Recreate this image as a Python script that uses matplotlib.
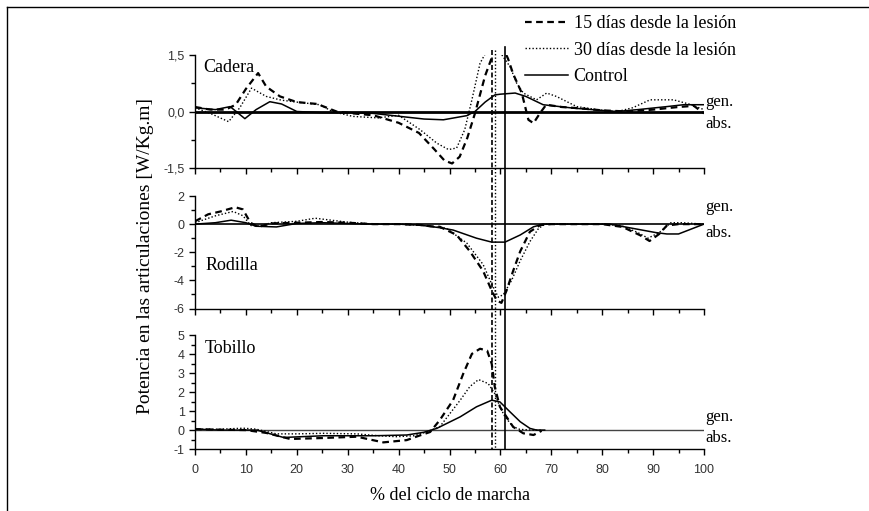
import matplotlib
matplotlib.use('Agg')
import matplotlib.pyplot as plt
from matplotlib.ticker import MultipleLocator, FixedLocator, FuncFormatter, NullFormatter
from matplotlib.lines import Line2D
import matplotlib.transforms as mtransforms

plt.rcParams['axes.unicode_minus'] = False
SERIF = ['Liberation Serif', 'DejaVu Serif']
SANS = ['Liberation Sans', 'DejaVu Sans']

# ---------------- data ----------------
legend_labels = ['15 días desde la lesión', '30 días desde la lesión', 'Control']
panel_names = ['Cadera', 'Rodilla', 'Tobillo']

# Cadera (hip)
hip15_x = [0, 3, 6, 8, 10, 12.4, 14, 16.7, 20, 24, 27.8, 31, 35, 40, 44, 47, 49, 50.5, 52, 53.5,
           55, 57, 58.5, 59.6, 60.5, 61.5, 62.5, 64.2, 65.5, 66.5, 67.8, 69, 72, 76, 80, 85, 90, 95, 98, 100]
hip15_y = [0.12, 0.05, 0.05, 0.18, 0.6, 1.02, 0.66, 0.40, 0.25, 0.2, 0.0, -0.05, -0.1, -0.3, -0.57, -1.0,
           -1.3, -1.38, -1.2, -0.7, -0.05, 0.95, 1.5, 1.72, 1.7, 1.4, 1.0, 0.49, -0.22, -0.31, -0.04, 0.18,
           0.12, 0.08, 0.03, 0.0, 0.05, 0.12, 0.15, -0.05]
hip30_x = [0, 3, 6.6, 8.8, 11.1, 14, 17, 20, 24.5, 27, 31, 36, 40, 44.2, 47.5, 49.8, 51.4, 53, 54.4, 56,
           57.6, 58.9, 60.3, 61.9, 63.2, 64.5, 67.1, 69.1, 71, 75, 80, 83, 86, 89.4, 94, 97, 100]
hip30_y = [0.1, -0.05, -0.27, 0.1, 0.62, 0.4, 0.3, 0.25, 0.18, 0.0, -0.13, -0.17, -0.1, -0.48, -0.84,
           -1.01, -0.97, -0.48, 0.31, 1.28, 1.68, 1.68, 1.5, 1.19, 0.75, 0.49, 0.31, 0.49, 0.4, 0.13, 0.03,
           0.0, 0.1, 0.31, 0.31, 0.2, 0.05]
hipC_x = [0, 4, 6.9, 9.8, 12, 14.7, 17, 20, 25, 30, 35, 40.3, 45, 48.8, 53.4, 55, 57, 58.9, 60, 62.9,
          65, 68.4, 74.3, 78, 82.8, 87, 92.7, 96, 100]
hipC_y = [0.1, 0.05, 0.13, -0.19, 0.05, 0.26, 0.2, 0.0, -0.03, -0.03, -0.05, -0.13, -0.2, -0.22, -0.11,
          0.0, 0.25, 0.44, 0.46, 0.49, 0.4, 0.18, 0.09, 0.05, 0.0, 0.05, 0.13, 0.18, 0.18]

# Rodilla (knee)
knee15_x = [0, 2.6, 5, 7.9, 9.4, 10.9, 12.4, 15, 20, 25, 30, 35, 40, 44, 46.2, 48.1, 51.4, 54, 56.6, 58.3,
            59.3, 60.2, 61.2, 62.5, 63.9, 65.8, 67.8, 70, 75, 80, 84, 87.5, 89.3, 91.2, 92.7, 95, 100]
knee15_y = [0.2, 0.7, 0.9, 1.2, 1.05, 0.1, -0.2, 0.05, 0.1, 0.15, 0.1, 0.0, 0.0, -0.05, -0.15, -0.19,
            -0.77, -1.93, -3.33, -4.73, -5.43, -5.6, -4.73, -3.33, -1.93, -0.54, -0.07, 0.0, 0.0, 0.0,
            -0.2, -0.8, -1.2, -0.7, -0.1, 0.0, 0.0]
knee30_x = [0, 4.1, 7.5, 9.4, 11, 13, 15, 20, 23.6, 29.7, 35, 40, 45, 49.4, 53.4, 56.6, 58.3, 59.6, 60.6,
            62.2, 63.9, 65.8, 67.5, 68.8, 75, 80, 83.7, 87, 89, 91.2, 93.5, 95.7, 100]
knee30_y = [0.1, 0.6, 0.9, 0.6, -0.1, -0.1, 0.1, 0.2, 0.42, 0.15, 0.0, 0.0, -0.1, -0.3, -1.35, -2.87,
            -4.27, -5.2, -5.0, -4.0, -2.6, -1.24, -0.3, 0.0, 0.0, 0.0, -0.1, -0.6, -1.0, -0.6, 0.1, 0.1, 0.0]
kneeC_x = [0, 4, 7.1, 10, 12, 16, 20, 25, 30, 35, 40, 44.2, 48, 50.7, 55.3, 58.3, 60.9, 63.9, 66.5, 68.4,
           75, 81.5, 86, 90.5, 92.7, 95, 100]
kneeC_y = [0.0, 0.1, 0.28, 0.1, -0.15, -0.2, 0.05, 0.1, 0.05, 0.0, 0.0, -0.07, -0.25, -0.42, -1.0, -1.28,
           -1.28, -0.77, -0.19, 0.0, 0.0, 0.0, -0.3, -0.6, -0.7, -0.7, 0.0]

# Tobillo (ankle)
ank15_x = [0, 5, 10, 14, 18.7, 25, 31.8, 37, 41.6, 44, 46.2, 48.1, 50.7, 52.7, 54.4, 56, 57.4, 58.3, 58.9,
           59.9, 61.2, 62.5, 64.5, 66.5, 68.1]
ank15_y = [0.05, 0.02, 0.0, -0.15, -0.47, -0.42, -0.35, -0.65, -0.53, -0.3, -0.1, 0.53, 1.58, 2.98, 4.03,
           4.3, 4.2, 3.5, 2.28, 1.23, 0.7, 0.17, -0.17, -0.26, -0.04]
ank30_x = [0, 5, 9.5, 12, 16, 20, 25.2, 31.8, 36, 39.6, 43, 45.5, 48.1, 50.1, 52.1, 54, 55.7, 57.6, 58.9,
           59.9, 60.9, 62.5, 63.8, 66, 68]
ank30_y = [0.05, 0.05, 0.1, 0.05, -0.2, -0.2, -0.17, -0.2, -0.3, -0.35, -0.3, -0.1, 0.18, 0.88, 1.58,
           2.3, 2.67, 2.46, 1.93, 1.23, 0.7, 0.18, 0.04, 0.0, 0.0]
ankC_x = [0, 5, 12.1, 17.4, 25.2, 35, 41.6, 44.9, 47.5, 52.1, 55.3, 58.3, 59.9, 61.9, 63.9, 65.8, 67.1, 68.7]
ankC_y = [0.05, 0.0, 0.0, -0.39, -0.3, -0.3, -0.26, -0.12, 0.09, 0.7, 1.23, 1.58, 1.49, 0.96, 0.44,
          0.09, 0.0, 0.0]

# vertical markers (% of gait cycle)
vline_15 = 58.3
vline_30 = 59.0
vline_C = 61.0

ylims = [(-1.5, 1.5), (-6, 2), (-1, 5)]
yticks_major = [[-1.5, 0.0, 1.5], [-6, -4, -2, 0, 2], [-1, 0, 1, 2, 3, 4, 5]]
yticks_minor = [[-0.75, 0.75], [-5, -3, -1, 1], [-0.5, 0.5, 1.5, 2.5, 3.5, 4.5]]
gen_abs_y = [(0.24, -0.32), (1.25, -0.6), (0.68, -0.42)]
name_pos = [(1.6, 1.18), (2.0, -2.94), (2.0, 4.3)]

# ---------------- figure ----------------
W, H = 869, 511
fig = plt.figure(figsize=(W / 100, H / 100), dpi=100)

def rect(top, bottom):
    return [195 / W, 1 - bottom / H, 509 / W, (bottom - top) / H]

axes = [fig.add_axes(rect(55, 168)), fig.add_axes(rect(196, 308.5)), fig.add_axes(rect(335.5, 449))]

sty15 = dict(color='black', lw=1.6, dashes=(3, 2))
sty30 = dict(color='black', lw=1.0, dashes=(1, 1.5))
styC = dict(color='black', lw=1.1)

series = [
    ((hip15_x, hip15_y), (hip30_x, hip30_y), (hipC_x, hipC_y)),
    ((knee15_x, knee15_y), (knee30_x, knee30_y), (kneeC_x, kneeC_y)),
    ((ank15_x, ank15_y), (ank30_x, ank30_y), (ankC_x, ankC_y)),
]
zero_lw = [2.0, 1.2, 1.0]
zero_col = ['black', 'black', '#444444']

handles = None
for i, ax in enumerate(axes):
    (x15, y15), (x30, y30), (xc, yc) = series[i]
    ax.axhline(0, color=zero_col[i], lw=zero_lw[i], zorder=1)
    h1, = ax.plot(x15, y15, **sty15, zorder=3)
    h2, = ax.plot(x30, y30, **sty30, zorder=3)
    h3, = ax.plot(xc, yc, **styC, zorder=3)
    if i == 0:
        handles = [h1, h2, h3]
    ax.set_xlim(0, 100)
    ax.set_ylim(*ylims[i])
    for s in ['top', 'right']:
        ax.spines[s].set_visible(False)
    for s in ['left', 'bottom']:
        ax.spines[s].set_linewidth(1.0)
    ax.patch.set_visible(False)
    ax.xaxis.set_major_locator(MultipleLocator(10))
    ax.xaxis.set_minor_locator(MultipleLocator(5))
    ax.yaxis.set_major_locator(FixedLocator(yticks_major[i]))
    ax.yaxis.set_minor_locator(FixedLocator(yticks_minor[i]))
    ax.tick_params(which='major', direction='out', length=4.5, width=1.0, pad=3,
                   labelsize=9, labelcolor='#333333')
    ax.tick_params(which='minor', direction='out', length=3, width=1.0)
    if i == 0:
        ax.yaxis.set_major_formatter(FuncFormatter(lambda v, p: f'{v:.1f}'.replace('.', ',')))
    else:
        ax.yaxis.set_major_formatter(FuncFormatter(lambda v, p: f'{v:.0f}'))
    for lab in ax.get_yticklabels() + ax.get_xticklabels():
        lab.set_family(SANS)
    if i < 2:
        ax.xaxis.set_major_formatter(NullFormatter())
    else:
        ax.tick_params(axis='x', which='major', pad=6)
        for lab in ax.get_xticklabels():
            lab.set_family(SANS)
    ax.text(name_pos[i][0], name_pos[i][1], panel_names[i], family=SERIF, fontsize=13,
            ha='left', va='center')
    g, a = gen_abs_y[i]
    ax.text(100.3, g, 'gen.', family=SERIF, fontsize=12, ha='left', va='center', clip_on=False)
    ax.text(100.3, a, 'abs.', family=SERIF, fontsize=12, ha='left', va='center', clip_on=False)

# vertical reference lines spanning all panels
tr = mtransforms.blended_transform_factory(axes[2].transData, fig.transFigure)
fig.add_artist(Line2D([vline_15, vline_15], [1 - 50 / H, 1 - 449 / H], transform=tr,
                      color='black', lw=1.2, dashes=(3, 1.5)))
fig.add_artist(Line2D([vline_30, vline_30], [1 - 50 / H, 1 - 449 / H], transform=tr,
                      color='black', lw=1.0, dashes=(1, 1.5)))
fig.add_artist(Line2D([vline_C, vline_C], [1 - 47 / H, 1 - 449 / H], transform=tr,
                      color='black', lw=1.2))

# legend
fig.legend(handles, legend_labels, loc='upper left', bbox_to_anchor=(525 / W, 1 - 15 / H),
           frameon=False, prop={'family': SERIF, 'size': 13}, handlelength=2.4,
           handletextpad=0.3, labelspacing=0.53, borderpad=0, borderaxespad=0)

# axis labels
fig.text(146 / W, 1 - 256 / H, 'Potencia en las articulaciones [W/Kg.m]', family=SERIF,
         fontsize=14, rotation=90, ha='center', va='center')
fig.text(450 / W, 1 - 496 / H, '% del ciclo de marcha', family=SERIF, fontsize=13,
         ha='center', va='center')

# frame lines (top and left)
fig.add_artist(Line2D([7 / W, 1], [1 - 7 / H, 1 - 7 / H], transform=fig.transFigure,
                      color='black', lw=1.0))
fig.add_artist(Line2D([7 / W, 7 / W], [1 - 7 / H, 0], transform=fig.transFigure,
                      color='black', lw=1.0))

fig.savefig('out.png', dpi=100, facecolor='white')
